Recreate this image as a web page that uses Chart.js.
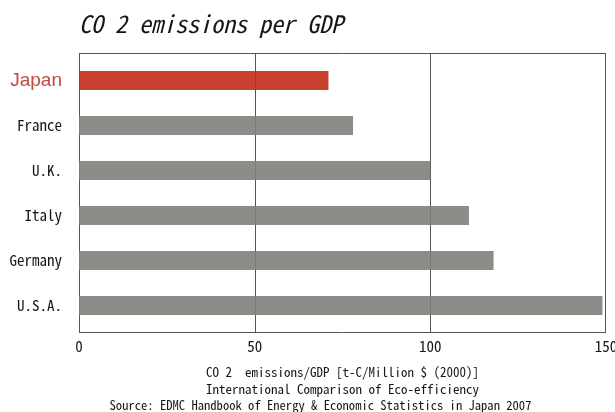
<!DOCTYPE html>
<html>
<head>
<meta charset="utf-8">
<script src="https://cdn.jsdelivr.net/npm/chart.js@4/dist/chart.umd.min.js"></script>
<style>
  html, body { margin: 0; padding: 0; background: #fff; }
  canvas { display: block; }
</style>
</head>
<body>
<canvas id="chart" width="615" height="412"></canvas>
<script>
// CO2 emissions per unit of GDP, t-C per million US$ (2000 prices)
const countries = ['Japan', 'France', 'U.K.', 'Italy', 'Germany', 'U.S.A.'];
const emissionsPerGdp = [71, 78, 100, 111, 118, 149];
const axisTicks = [0, 50, 100, 150];

const chartTitle = 'CO 2 emissions per GDP';
const axisCaption = ['CO 2  emissions/GDP [t-C/Million $ (2000)]', 'International Comparison of Eco-efficiency'];
const sourceNote = 'Source: EDMC Handbook of Energy & Economic Statistics in Japan 2007';

const gothic = "'Noto Sans Mono CJK JP', 'Noto Sans CJK JP', 'Liberation Mono', monospace";
const highlightBar = 'rgba(194, 44, 24, 0.9)';
const otherBar = 'rgba(128, 128, 124, 0.9)';
const highlightText = '#c4493d';
const ink = '#151515';
const rule = '#555555';
const frameInset = 5;   // the frame sits a little outside the band of bars

// Plot frame and vertical rules at each value tick, drawn beneath the bars
const plotFrame = {
  id: 'plotFrame',
  beforeDatasetsDraw(chart) {
    const { ctx, chartArea: a, scales: { x } } = chart;
    const top = Math.round(a.top - frameInset) + 0.5;
    const bottom = Math.round(a.bottom + frameInset) - 0.5;
    ctx.save();
    ctx.strokeStyle = rule;
    ctx.lineWidth = 1;
    ctx.beginPath();
    axisTicks.forEach(v => {
      const px = Math.round(x.getPixelForValue(v)) + (v === axisTicks[axisTicks.length - 1] ? -0.5 : 0.5);
      ctx.moveTo(px, top);
      ctx.lineTo(px, bottom);
    });
    ctx.moveTo(Math.round(a.left), top);
    ctx.lineTo(Math.round(a.right), top);
    ctx.moveTo(Math.round(a.left), bottom);
    ctx.lineTo(Math.round(a.right), bottom);
    ctx.stroke();
    ctx.restore();
  }
};

new Chart(document.getElementById('chart'), {
  type: 'bar',
  data: {
    labels: countries,
    datasets: [{
      data: emissionsPerGdp,
      backgroundColor: countries.map((c, i) => i === 0 ? highlightBar : otherBar),
      borderWidth: 0,
      barPercentage: 0.42,
      categoryPercentage: 1
    }]
  },
  options: {
    indexAxis: 'y',
    responsive: false,
    animation: false,
    // the negative right margin recentres the full-width source line
    layout: { padding: { left: 8, right: -18, top: 0, bottom: 0 } },
    plugins: {
      legend: { display: false },
      tooltip: { enabled: false },
      title: {
        display: true,
        text: chartTitle,
        align: 'start',
        fullSize: false,
        color: ink,
        font: { family: gothic, style: 'italic', weight: 'normal', size: 24, lineHeight: 1.2 },
        padding: { top: 9.6, bottom: 19.6 }
      },
      subtitle: {
        display: true,
        position: 'bottom',
        text: sourceNote,
        color: ink,
        font: { family: gothic, weight: 'normal', size: 12.6, lineHeight: '14px' },
        padding: { top: 0, bottom: 0 }
      }
    },
    scales: {
      x: {
        type: 'linear',
        min: axisTicks[0],
        max: axisTicks[axisTicks.length - 1],
        afterBuildTicks(scale) {
          scale.ticks = axisTicks.map(v => ({ value: v }));
        },
        afterFit(scale) {
          scale.height = 70;
          scale.paddingLeft = 0;
          scale.paddingRight = 9;
        },
        ticks: {
          color: ink,
          padding: 9,
          font: { family: gothic, size: 15, lineHeight: 1.2 }
        },
        grid: { display: false, drawTicks: false },
        border: { display: false },
        title: {
          display: true,
          text: axisCaption,
          color: ink,
          font: { family: gothic, size: 13, lineHeight: '17px' },
          padding: { top: 9, bottom: 0 }
        }
      },
      y: {
        afterFit(scale) {
          scale.width = 71;
        },
        ticks: {
          padding: 17,
          color: (ctx) => ctx.index === 0 ? highlightText : ink,
          font: (ctx) => ctx.index === 0
            ? { family: "'Liberation Sans', sans-serif", size: 19, lineHeight: 1.2 }
            : { family: gothic, size: 15, lineHeight: 1.2 }
        },
        grid: { display: false, drawTicks: false },
        border: { display: false }
      }
    }
  },
  plugins: [plotFrame]
});
</script>
</body>
</html>
